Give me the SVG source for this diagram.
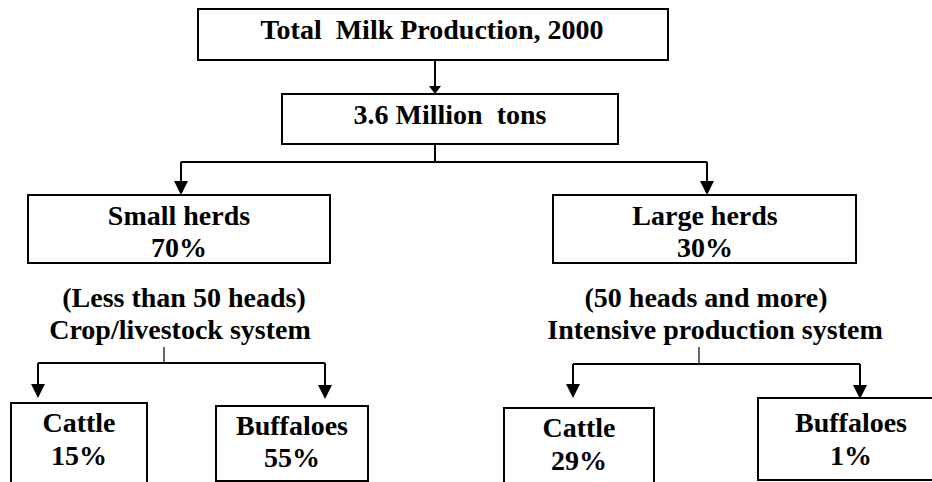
<svg xmlns="http://www.w3.org/2000/svg" width="932" height="482" viewBox="0 0 932 482" font-family="Liberation Serif, Times New Roman, serif">
<style>
.box{fill:#fff;stroke:#000;stroke-width:2}
.t{font-weight:bold;font-size:28px;fill:#000;text-anchor:middle;white-space:pre}
.c{stroke:#000;stroke-width:2;fill:none}
.tk{stroke:#000;stroke-width:1.2;fill:none}
</style>
<defs>
<marker id="ah" viewBox="0 0 14 14" markerWidth="14" markerHeight="14" markerUnits="userSpaceOnUse" refX="6" refY="7" orient="auto">
<path d="M0,0 L14,7 L0,14 z" fill="#000"/>
</marker>
<marker id="ahs" viewBox="0 0 8 12" markerWidth="8" markerHeight="12" markerUnits="userSpaceOnUse" refX="3" refY="6" orient="auto">
<path d="M0,0 L8,6 L0,12 z" fill="#000"/>
</marker>
</defs>
<g id="connectors">
<line class="c" x1="435" y1="60" x2="435" y2="89" marker-end="url(#ahs)"/>
<polyline class="c" points="435,144 435,162"/>
<polyline class="c" points="181,162 707,162"/>
<line class="c" x1="181" y1="162" x2="181" y2="187" marker-end="url(#ah)"/>
<line class="c" x1="707" y1="162" x2="707" y2="187" marker-end="url(#ah)"/>
<line class="tk" x1="164" y1="347" x2="164" y2="363"/>
<polyline class="c" points="38,363 325,363"/>
<line class="c" x1="38" y1="363" x2="38" y2="390" marker-end="url(#ah)"/>
<line class="c" x1="325" y1="363" x2="325" y2="391" marker-end="url(#ah)"/>
<line class="tk" x1="699" y1="347" x2="699" y2="364"/>
<polyline class="c" points="573,364 860,364"/>
<line class="c" x1="573" y1="364" x2="573" y2="390" marker-end="url(#ah)"/>
<line class="c" x1="860" y1="364" x2="860" y2="391" marker-end="url(#ah)"/>
</g>
<g id="total">
<rect class="box" x="198" y="9" width="470" height="51"/>
<text class="t" x="432" y="39">Total  Milk Production, 2000</text>
</g>
<g id="million">
<rect class="box" x="282" y="94" width="336" height="50"/>
<text class="t" x="450" y="124">3.6 Million  tons</text>
</g>
<g id="small-herds">
<rect class="box" x="28" y="195" width="302" height="68"/>
<text class="t" x="179" y="225">Small herds</text>
<text class="t" x="179" y="257">70%</text>
</g>
<g id="large-herds">
<rect class="box" x="553" y="195" width="303" height="68"/>
<text class="t" x="705" y="225">Large herds</text>
<text class="t" x="705" y="257">30%</text>
</g>
<g id="small-label">
<text class="t" x="184" y="307">(Less than 50 heads)</text>
<text class="t" x="180" y="339">Crop/livestock system</text>
</g>
<g id="large-label">
<text class="t" x="706" y="307">(50 heads and more)</text>
<text class="t" x="715" y="339">Intensive production system</text>
</g>
<g id="cattle-small">
<rect class="box" x="11" y="403" width="136" height="90"/>
<text class="t" x="79" y="432">Cattle</text>
<text class="t" x="79" y="465">15%</text>
</g>
<g id="buffaloes-small">
<rect class="box" x="216" y="406" width="152" height="75"/>
<text class="t" x="292" y="435">Buffaloes</text>
<text class="t" x="292" y="467">55%</text>
</g>
<g id="cattle-large">
<rect class="box" x="504" y="408" width="150" height="90"/>
<text class="t" x="579" y="437">Cattle</text>
<text class="t" x="579" y="470">29%</text>
</g>
<g id="buffaloes-large">
<rect class="box" x="758" y="398" width="190" height="82"/>
<text class="t" x="851" y="432">Buffaloes</text>
<text class="t" x="851" y="465">1%</text>
</g>
</svg>
